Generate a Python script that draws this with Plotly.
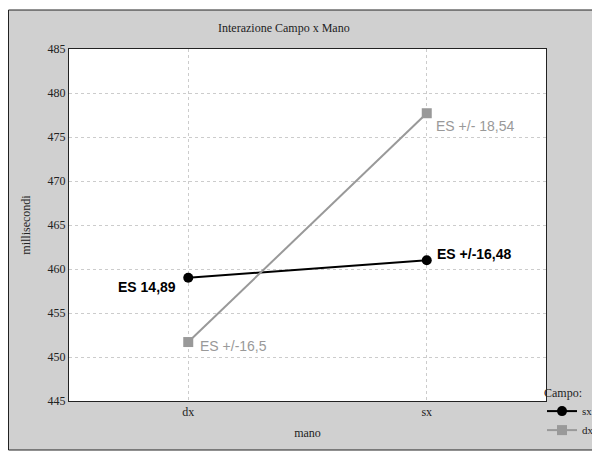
import plotly.graph_objects as go

categories = ["dx", "sx"]
series_names = ["sx", "dx"]
values_sx = [459.0, 461.0]
values_dx = [451.7, 477.7]
labels_sx = ["ES 14,89", "ES +/-16,48"]
labels_dx = ["ES +/-16,5", "ES +/- 18,54"]
y_ticks = [445, 450, 455, 460, 465, 470, 475, 480, 485]

SERIF = "Liberation Serif"
SANS = "Liberation Sans"

# the page body adds an 8px margin, so the figure is 592x444 placed at (8, 8)
W, H = 592, 444
L, R, T, B = 61, 538, 41, 393   # plot area in figure pixels
PW, PH = R - L, B - T

def px(x):
    return (x - L) / PW

def py(y):
    return (B - y) / PH

fig = go.Figure()
fig.add_trace(go.Scatter(
    x=categories, y=values_sx, name=series_names[0], mode="lines+markers",
    line=dict(color="black", width=2),
    marker=dict(symbol="circle", size=10, color="black"),
))
fig.add_trace(go.Scatter(
    x=categories, y=values_dx, name=series_names[1], mode="lines+markers",
    line=dict(color="#999999", width=2),
    marker=dict(symbol="square", size=10, color="#999999"),
))

ann_style = [
    dict(xanchor="right", xshift=-10, yshift=-9, color="black", bold=True),
    dict(xanchor="left", xshift=8, yshift=6, color="black", bold=True),
]
ann_style_dx = [
    dict(xanchor="left", xshift=10, yshift=-4, color="#999999", bold=False),
    dict(xanchor="left", xshift=7, yshift=-13, color="#999999", bold=False),
]
for cat, val, lab, st in zip(categories, values_sx, labels_sx, ann_style):
    fig.add_annotation(x=cat, y=val, xref="x", yref="y", text=("<b>%s</b>" % lab) if st["bold"] else lab,
                       showarrow=False, xanchor=st["xanchor"], yanchor="middle",
                       xshift=st["xshift"], yshift=st["yshift"],
                       font=dict(family=SANS, size=14, color=st["color"]))
for cat, val, lab, st in zip(categories, values_dx, labels_dx, ann_style_dx):
    fig.add_annotation(x=cat, y=val, xref="x", yref="y", text=("<b>%s</b>" % lab) if st["bold"] else lab,
                       showarrow=False, xanchor=st["xanchor"], yanchor="middle",
                       xshift=st["xshift"], yshift=st["yshift"],
                       font=dict(family=SANS, size=14, color=st["color"]))

fig.add_annotation(x=px(276), y=py(20), xref="paper", yref="paper",
                   text="Interazione Campo x Mano", showarrow=False,
                   xanchor="center", yanchor="middle",
                   font=dict(family=SERIF, size=12, color="#222"))

# outer grey frame
fig.add_shape(type="rect", xref="paper", yref="paper",
              x0=px(0.5), x1=px(590), y0=py(442), y1=py(2),
              fillcolor="#d0d0d0", line=dict(color="#222", width=1), layer="below")
# white plotting area on top of the frame
fig.add_shape(type="rect", xref="paper", yref="paper",
              x0=0, x1=1, y0=0, y1=1,
              fillcolor="white", line=dict(width=0), layer="below")

fig.update_layout(
    width=W, height=H,
    margin=dict(l=L, r=W - R, t=T, b=H - B, autoexpand=False),
    paper_bgcolor="white",
    plot_bgcolor="white",
    showlegend=True,
    legend=dict(
        title=dict(text="Campo:", font=dict(family=SERIF, size=12, color="#222")),
        x=px(534), y=py(373), xanchor="left", yanchor="top",
        bgcolor="rgba(0,0,0,0)",
        font=dict(family=SERIF, size=11, color="#222"),
        tracegroupgap=0, itemwidth=30,
    ),
    xaxis=dict(
        type="category", range=[-0.5, 1.5],
        showline=True, linecolor="#222", linewidth=1, mirror=True,
        showgrid=True, gridcolor="#cccccc", griddash="dot", gridwidth=1,
        ticks="", zeroline=False,
        tickfont=dict(family=SERIF, size=12, color="#222"),
        title=dict(text="mano", font=dict(family=SERIF, size=12, color="#222"), standoff=10),
    ),
    yaxis=dict(
        range=[445, 485], tickvals=y_ticks,
        showline=True, linecolor="#222", linewidth=1, mirror=True,
        showgrid=True, gridcolor="#cccccc", griddash="dot", gridwidth=1,
        ticks="", zeroline=False,
        tickfont=dict(family=SERIF, size=12, color="#222"),
        title=dict(text="millisecondi", font=dict(family=SERIF, size=12, color="#222"), standoff=14),
    ),
)

fig.write_html("out.html")
